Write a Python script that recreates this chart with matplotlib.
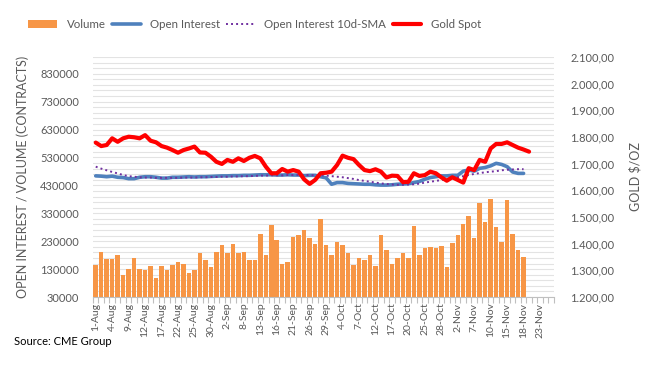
import matplotlib
matplotlib.use('Agg')
import matplotlib.pyplot as plt
from matplotlib.ticker import FuncFormatter, FixedLocator
import numpy as np
import pandas as pd

# trading days, Labor Day and Thanksgiving left out
dates = pd.bdate_range('2022-08-01', '2022-11-28', freq='C',
                       holidays=['2022-09-05', '2022-11-24'])
date_labels = [d.strftime('%d-%b').lstrip('0') for d in dates]

volume = [143000, 190000, 167000, 167000, 181000, 109000, 131000, 171000, 131000, 125000,
          142000, 98000, 142000, 128000, 145000, 154000, 149000, 117000, 125000, 186000,
          161000, 138000, 190000, 215000, 186000, 219000, 186000, 193000, 164000, 161000,
          254000, 182000, 287000, 233000, 150000, 154000, 244000, 251000, 269000, 240000,
          219000, 309000, 215000, 182000, 226000, 215000, 186000, 146000, 168000, 164000,
          179000, 142000, 251000, 197000, 150000, 168000, 186000, 168000, 283000, 179000,
          204000, 208000, 204000, 211000, 136000, 222000, 251000, 290000, 319000, 240000,
          366000, 298000, 381000, 280000, 227000, 377000, 254000, 200000, 172000]

open_interest = [464000, 463000, 461000, 463000, 459000, 458000, 454000, 454000, 459000, 461000,
                 461000, 459000, 456000, 456000, 459000, 459000, 460000, 461000, 460000, 461000,
                 461000, 462000, 463000, 464000, 464000, 465000, 465000, 466000, 466000, 467000,
                 468000, 468000, 468000, 467000, 467000, 468000, 467000, 467000, 465000, 466000,
                 466000, 461000, 457000, 434000, 440000, 440000, 437000, 436000, 435000, 434000,
                 434000, 432000, 431000, 431000, 432000, 434000, 435000, 436000, 440000, 444000,
                 452000, 458000, 461000, 464000, 464000, 466000, 466000, 481000, 485000, 481000,
                 491000, 494000, 500000, 509000, 505000, 497000, 478000, 473000, 473000]

oi_sma = [497000, 490000, 484000, 478000, 473000, 467000, 463000, 461000, 459000, 458000,
          458000, 457000, 457000, 457000, 457000, 457000, 458000, 458000, 458000, 459000,
          459000, 460000, 460000, 461000, 461000, 462000, 462000, 463000, 463000, 464000,
          465000, 465000, 466000, 466000, 466000, 467000, 467000, 467000, 467000, 467000,
          466000, 466000, 465000, 463000, 461000, 459000, 456000, 453000, 449000, 446000,
          443000, 440000, 437000, 435000, 433000, 432000, 432000, 433000, 434000, 436000,
          440000, 443000, 446000, 449000, 452000, 456000, 459000, 463000, 467000, 471000,
          474000, 477000, 479000, 481000, 484000, 486000, 487000, 488000, 488000]

gold_spot = [1779, 1766, 1770, 1795, 1782, 1795, 1801, 1799, 1795, 1807,
             1786, 1780, 1766, 1760, 1751, 1741, 1751, 1757, 1764, 1742,
             1741, 1726, 1707, 1699, 1714, 1707, 1720, 1710, 1722, 1729,
             1720, 1689, 1664, 1664, 1680, 1670, 1676, 1670, 1641, 1624,
             1639, 1664, 1666, 1670, 1695, 1730, 1722, 1717, 1695, 1676,
             1672, 1679, 1670, 1648, 1655, 1654, 1631, 1632, 1664, 1654,
             1657, 1670, 1664, 1649, 1636, 1649, 1639, 1629, 1683, 1676,
             1714, 1707, 1757, 1774, 1774, 1780, 1770, 1760, 1753, 1745]

grey = '#595959'
plt.rcParams['font.family'] = ['Lato', 'DejaVu Sans']

fig = plt.figure(figsize=(6.53, 3.66), dpi=100)
ax = fig.add_axes([0.1424, 0.1885, 0.7056, 0.6558])
ax2 = ax.twinx()

x = np.arange(len(dates))
bars = ax.bar(x[:len(volume)], volume, width=0.82, color='#F79646', label='Volume', zorder=2)
oi_line, = ax.plot(x[:len(open_interest)], open_interest, color='#4F81BD', lw=2.6,
                   solid_capstyle='round', label='Open Interest', zorder=3)
sma_line, = ax.plot(x[:len(oi_sma)], oi_sma, color='#7030A0', lw=1.4, ls=(0, (1, 1.6)),
                    label='Open Interest 10d-SMA', zorder=3)
gold_line, = ax2.plot(x[:len(gold_spot)], gold_spot, color='#FF0000', lw=3,
                      solid_capstyle='round', solid_joinstyle='round', label='Gold Spot')

ax.set_xlim(-0.5, len(dates) - 0.5)
ax.set_ylim(30000, 890000)
ax2.set_ylim(1200, 2100)

ax.set_yticks(np.arange(30000, 830001, 100000))
ax.yaxis.set_minor_locator(FixedLocator(np.arange(30000, 890001, 20000)))
ax.grid(axis='y', which='both', color='#E3E3E3', lw=0.8, zorder=0)
ax.set_axisbelow(True)
ax2.set_yticks(np.arange(1200, 2101, 100))
ax2.yaxis.set_major_formatter(FuncFormatter(
    lambda v, p: '{:,.2f}'.format(v).replace(',', 'X').replace('.', ',').replace('X', '.')))

ax.set_xticks(x[::3])
ax.set_xticklabels(date_labels[::3], rotation=90)
ax.set_xticks(np.arange(-0.5, len(dates), 1), minor=True)
ax.tick_params(axis='x', which='major', length=0, pad=4, labelsize=7.5, labelcolor=grey)
ax.tick_params(axis='x', which='minor', length=4, color='#BFBFBF', width=0.8)
ax.tick_params(axis='y', which='both', length=0, labelsize=8, labelcolor=grey, pad=10)
ax2.tick_params(axis='y', length=0, labelsize=8, labelcolor=grey, pad=12)

for a in (ax, ax2):
    for s in ('top', 'left', 'right'):
        a.spines[s].set_visible(False)
ax2.spines['bottom'].set_visible(False)
ax.spines['bottom'].set_color('#BFBFBF')
ax.spines['bottom'].set_linewidth(0.8)

ax.set_ylabel('OPEN INTEREST / VOLUME (CONTRACTS)', color=grey, fontsize=9, labelpad=8)
ax2.set_ylabel('GOLD $/OZ', color=grey, fontsize=9, labelpad=10)

fig.legend([bars, oi_line, sma_line, gold_line],
           ['Volume', 'Open Interest', 'Open Interest 10d-SMA', 'Gold Spot'],
           loc='center', bbox_to_anchor=(0.39, 0.934), ncol=4,
           frameon=False, fontsize=8.3, labelcolor=grey, handlelength=2.5,
           handletextpad=0.8, columnspacing=0.55)

fig.text(0.022, 0.057, 'Source: CME Group', fontsize=8, color='black')

fig.savefig('out.png', dpi=100)
